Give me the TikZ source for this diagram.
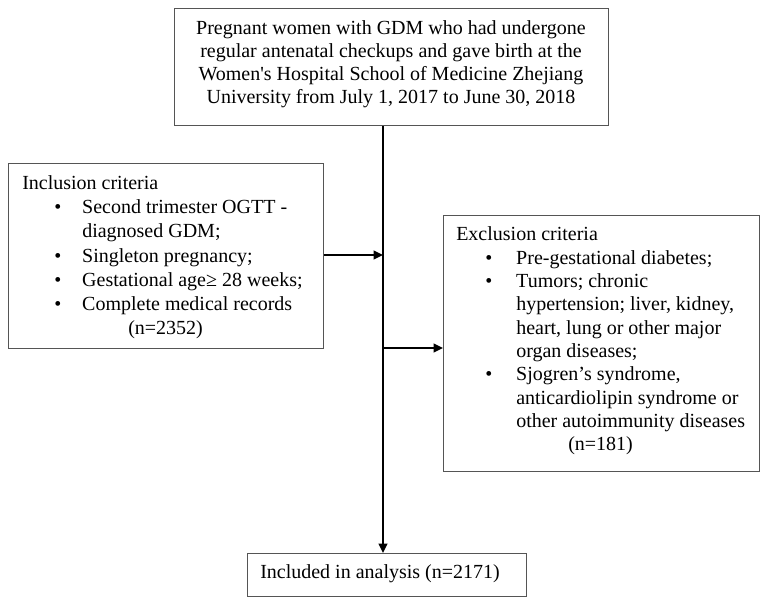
\documentclass[tikz,border=0pt]{standalone}
\usepackage{fontspec}
\setmainfont{Liberation Serif}
\usetikzlibrary{arrows.meta}
\definecolor{boxgray}{HTML}{555555}
\newcommand\lbul[1]{\hspace*{24pt}\makebox[21pt][l]{\textbullet}#1}
\newcommand\rbul[1]{\hspace*{21.75pt}\makebox[23.25pt][l]{\textbullet}#1}
\newcommand\cont[1]{\hspace*{45pt}#1}
\begin{document}
\begin{tikzpicture}[x=0.75pt,y=-0.75pt,
  box/.style={draw=boxgray,line width=0.9pt,rectangle,inner sep=0,anchor=north west},
  txt/.style={inner sep=0,align=left,anchor=base west,font=\fontsize{15}{18.2}\selectfont},
  conn/.style={line width=1.5pt,-{Triangle[length=7pt,width=6.5pt]}}]
\fill[white] (0,0) rectangle (765,605);
\useasboundingbox (0,0) rectangle (765,605);
% boxes
\node[box,minimum width=325.5pt,minimum height=87.75pt] (top) at (174,8) {};
\node[box,minimum width=236.25pt,minimum height=138.75pt] (left) at (8,163) {};
\node[box,minimum width=237pt,minimum height=192pt] (right) at (443,215) {};
\node[box,minimum width=209.25pt,minimum height=32.25pt] (bottom) at (247,553) {};
% texts
\node[inner sep=0,align=center,anchor=center,font=\fontsize{15}{17.25}\selectfont] (toptext) at (391,64)
 {Pregnant women with GDM who had undergone\\
  regular antenatal checkups and gave birth at the\\
  Women\textquotesingle s Hospital School of Medicine Zhejiang\\
  University from July 1, 2017 to June 30, 2018};
\node[txt] (lefttext) at (22,335)
 {Inclusion criteria\\
  \lbul{Second trimester OGTT -}\\
  \cont{diagnosed GDM;}\\
  \lbul{Singleton pregnancy;}\\
  \lbul{Gestational age≥ 28 weeks;}\\
  \lbul{Complete medical records}\\
  \hspace*{79.5pt}(n=2352)};
\node[txt,font=\fontsize{15}{17.5}\selectfont] (righttext) at (456,451)
 {Exclusion criteria\\
  \rbul{Pre-gestational diabetes;}\\
  \rbul{Tumors; chronic}\\
  \cont{hypertension; liver, kidney,}\\
  \cont{heart, lung or other major}\\
  \cont{organ diseases;}\\
  \rbul{Sjogren’s syndrome,}\\
  \cont{anticardiolipin syndrome or}\\
  \cont{other autoimmunity diseases}\\
  \hspace*{84pt}(n=181)};
\node[txt] (bottomtext) at (260,579) {Included in analysis (n=2171)};
% connectors
\coordinate (v1) at (383,255);
\coordinate (v2) at (383,348);
\draw[conn] (top.south -| v1) -- (bottom.north -| v1);
\draw[conn] (left.east |- v1) -- (v1);
\draw[conn] (v2) -- (right.west |- v2);
\end{tikzpicture}
\end{document}
